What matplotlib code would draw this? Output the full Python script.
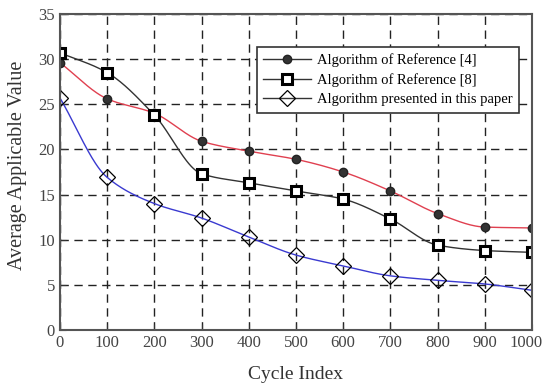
import numpy as np
import matplotlib
matplotlib.use('Agg')
import matplotlib.pyplot as plt
import matplotlib.transforms as mtransforms

plt.rcParams['font.family'] = ['Liberation Serif', 'DejaVu Serif']

# 数据
cycles = [0, 100, 200, 300, 400, 500, 600, 700, 800, 900, 1000]
ref4 = [29.6, 25.6, 24.0, 20.9, 19.8, 18.9, 17.5, 15.4, 12.9, 11.4, 11.3]
ref8 = [30.7, 28.5, 23.8, 17.3, 16.3, 15.4, 14.5, 12.3, 9.4, 8.8, 8.6]
ours = [25.7, 16.9, 14.0, 12.4, 10.3, 8.3, 7.1, 6.0, 5.5, 5.1, 4.4]
labels = ['Algorithm of Reference [4]', 'Algorithm of Reference [8]',
          'Algorithm presented in this paper']


def pchip(x, y, xs):
    # 单调三次插值，只用来画平滑曲线
    x = np.asarray(x, float)
    y = np.asarray(y, float)
    h = np.diff(x)
    d = np.diff(y) / h
    m = np.zeros_like(y)
    for k in range(1, len(x) - 1):
        if d[k - 1] * d[k] > 0:
            w1 = 2 * h[k] + h[k - 1]
            w2 = h[k] + 2 * h[k - 1]
            m[k] = (w1 + w2) / (w1 / d[k - 1] + w2 / d[k])
    m[0] = d[0]
    m[-1] = d[-1]
    idx = np.clip(np.searchsorted(x, xs) - 1, 0, len(x) - 2)
    t = (xs - x[idx]) / h[idx]
    h00 = 2 * t**3 - 3 * t**2 + 1
    h10 = t**3 - 2 * t**2 + t
    h01 = -2 * t**3 + 3 * t**2
    h11 = t**3 - t**2
    return h00 * y[idx] + h10 * h[idx] * m[idx] + h01 * y[idx + 1] + h11 * h[idx] * m[idx + 1]


fig = plt.figure(figsize=(5.45, 3.86), dpi=100)
ax = fig.add_axes([0.110, 0.145, 0.866, 0.819])

xs = np.linspace(0, 1000, 400)
ax.plot(xs, pchip(cycles, ref4, xs), color='#e04050', lw=1.0)
ax.plot(xs, pchip(cycles, ref8, xs), color='#333333', lw=1.0)
ax.plot(xs, pchip(cycles, ours, xs), color='#3a3ad0', lw=1.0)

ax.plot(cycles, ref4, ls='none', marker='o', ms=6, mfc='#333333', mec='#222222')
ax.plot(cycles, ref8, ls='none', marker='s', ms=7, mfc='white', mec='black', mew=2.2)
ax.plot(cycles, ours, ls='none', marker='D', ms=8, mfc='none', mec='black', mew=0.9)

# 图例用黑线
h1, = ax.plot([], [], color='#333333', lw=1, marker='o', ms=6, mfc='#333333', mec='#222222')
h2, = ax.plot([], [], color='#333333', lw=1, marker='s', ms=7, mfc='white', mec='black', mew=2.2)
h3, = ax.plot([], [], color='#333333', lw=1, marker='D', ms=8, mfc='none', mec='black', mew=0.9)
leg = ax.legend([h1, h2, h3], labels, loc='upper right', bbox_to_anchor=(0.972, 0.896),
                borderaxespad=0, fancybox=False, framealpha=1, edgecolor='#333333',
                fontsize=10.5, handlelength=3.3, borderpad=0.45, labelspacing=0.42,
                handletextpad=0.35)
leg.get_frame().set_linewidth(1.2)

ax.set_xlim(0, 1000)
ax.set_ylim(0, 35)
ax.set_xticks(range(0, 1001, 100))
ax.set_yticks(range(0, 36, 5))
ax.grid(True, color='#222222', ls=(0, (6, 4)), lw=1)
ax.tick_params(direction='in', labelsize=12, length=4, colors='#333333', labelcolor='#444444')
for s in ax.spines.values():
    s.set_color('#555555')
    s.set_linewidth(1.5)

# 最后一个刻度标签往左挪一点，免得被切掉
last = ax.get_xticklabels()[-1]
last.set_transform(last.get_transform() + mtransforms.ScaledTranslation(-6 / 100, 0, fig.dpi_scale_trans))

ax.set_xlabel('Cycle Index', fontsize=14, color='#333333')
ax.set_ylabel('Average Applicable Value', fontsize=14.5, color='#333333')
ax.xaxis.set_label_coords(0.5, -0.115)
ax.yaxis.set_label_coords(-0.07, 0.52)

fig.savefig('out.png', dpi=100)
